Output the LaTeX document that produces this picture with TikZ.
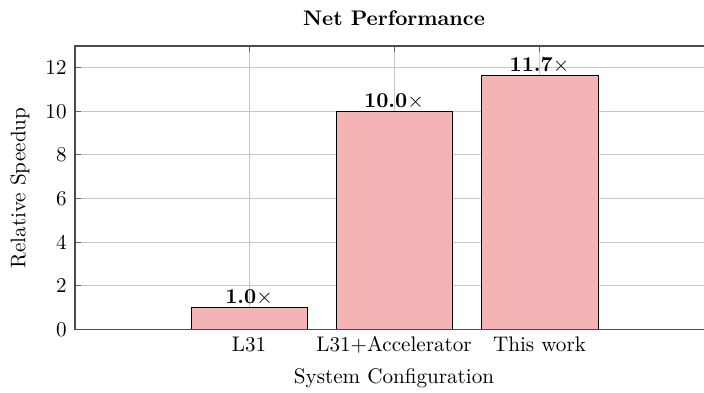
\documentclass[tikz,border=0pt]{standalone}
\usepackage{fontspec}
\begin{document}
\begin{tikzpicture}[x=0.4735pt, y=-0.4735pt,
  gridline/.style={draw=black!22, line width=0.4pt},
  axisline/.style={draw=black!70, line width=0.6pt},
  tickmark/.style={draw=black!60, line width=0.4pt},
  bar/.style={fill=barfill, draw=black, line width=0.45pt},
  ticklabel/.style={inner sep=0pt, font=\normalsize},
  barlabel/.style={anchor=south, inner sep=0pt, yshift=1pt}]
\definecolor{barfill}{RGB}{244,179,180}
\useasboundingbox (0,0) rectangle (704,393);

% horizontal grid
\foreach \yy in {285.7,242.1,198.5,154.9,111.3,67.7}
  \draw[gridline] (75,\yy) -- (704,\yy);
% vertical grid at the category positions
\foreach \xx in {249,394,539.5}
  \draw[gridline] (\xx,46) -- (\xx,329.3);

% bars
\draw[bar] (191,329.3) rectangle (307,307.5) coordinate (b1);
\draw[bar] (336,329.3) rectangle (452,111.3);
\draw[bar] (481,329.3) rectangle (598,75.3);
\coordinate (t1) at (249,307.5);
\coordinate (t2) at (394,111.3);
\coordinate (t3) at (539.5,75.3);

% tick marks
\foreach \yy in {329.3,285.7,242.1,198.5,154.9,111.3,67.7}
  \draw[tickmark] (75,\yy) -- (81,\yy);
\foreach \xx in {249,394,539.5}
  \draw[tickmark] (\xx,46) -- (\xx,52);

% axis frame (open on the right)
\draw[axisline] (704,46) -- (75,46) -- (75,329.3) -- (704,329.3);

% bar value labels
\node[barlabel] (v1) at (t1) {\textbf{1.0}$\times$};
\node[barlabel] (v2) at (t2) {\textbf{10.0}$\times$};
\node[barlabel] (v3) at (t3) {\textbf{11.7}$\times$};

% y tick labels
\node[ticklabel, anchor=east] (y0) at (67,329.3) {0};
\node[ticklabel, anchor=east] (y2) at (67,285.7) {2};
\node[ticklabel, anchor=east] (y4) at (67,242.1) {4};
\node[ticklabel, anchor=east] (y6) at (67,198.5) {6};
\node[ticklabel, anchor=east] (y8) at (67,154.9) {8};
\node[ticklabel, anchor=east] (y10) at (67,111.3) {10};
\node[ticklabel, anchor=east] (y12) at (67,67.7) {12};

% x tick labels
\node[ticklabel, anchor=base] (x1) at (249,351) {L31};
\node[ticklabel, anchor=base] (x2) at (394,351) {L31+Accelerator};
\node[ticklabel, anchor=base] (x3) at (539.5,351) {This work};

% axis titles
\node[ticklabel, anchor=base] (xl) at (394,383) {System Configuration};
\node[ticklabel, rotate=90, anchor=center] (yl) at (20,188) {Relative Speedup};
\node[ticklabel, anchor=base] (tt) at (394,25.5) {\bfseries Net Performance};
\end{tikzpicture}
\end{document}
